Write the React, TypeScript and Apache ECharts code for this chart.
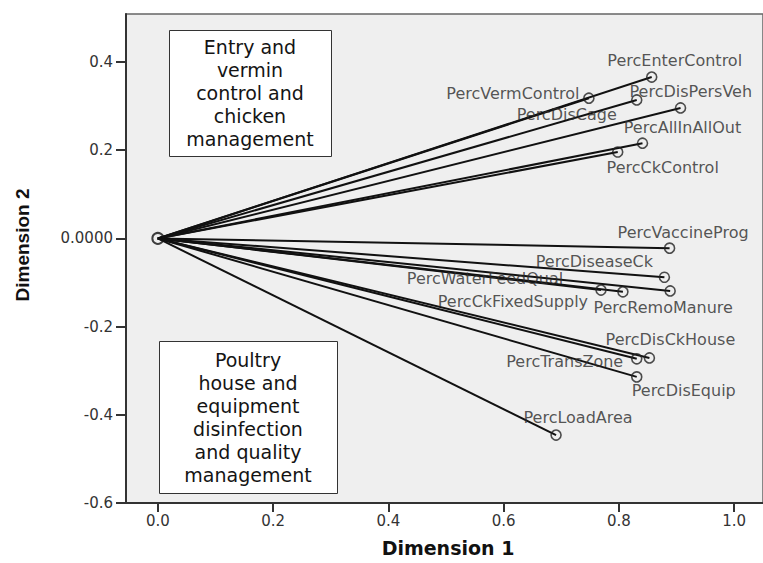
import React, { useEffect, useRef } from 'react';
import * as echarts from 'echarts';

// ---- data ----
const varNames = [
  'PercEnterControl', 'PercVermControl', 'PercDisCage', 'PercDisPersVeh', 'PercAllInAllOut', 'PercCkControl',
  'PercVaccineProg', 'PercDiseaseCk', 'PercRemoManure', 'PercCkFixedSupply', 'PercWaterFeedQual',
  'PercDisCkHouse', 'PercTransZone', 'PercDisEquip', 'PercLoadArea',
];
const dim1 = [0.857, 0.748, 0.831, 0.907, 0.841, 0.798, 0.888, 0.879, 0.889, 0.807, 0.769, 0.853, 0.831, 0.831, 0.691];
const dim2 = [0.366, 0.318, 0.314, 0.296, 0.216, 0.196, -0.022, -0.088, -0.119, -0.121, -0.117, -0.271, -0.273, -0.314, -0.446];
const xTickValues = [0, 0.2, 0.4, 0.6, 0.8, 1.0];
const yTickValues = [-0.6, -0.4, -0.2, 0, 0.2, 0.4];
const topBoxLines = ['Entry and', 'vermin', 'control and', 'chicken', 'management'];
const bottomBoxLines = ['Poultry', 'house and', 'equipment', 'disinfection', 'and quality', 'management'];
const xTitle = 'Dimension 1';
const yTitle = 'Dimension 2';

// ---- label placement (style) ----
const labelPlacement: Record<string, { offset: [number, number]; align?: string }> = {
  PercEnterControl: { offset: [23, -17] },
  PercVermControl: { offset: [-76, -5] },
  PercDisCage: { offset: [-70, 15] },
  PercDisPersVeh: { offset: [-51, -16], align: 'left' },
  PercAllInAllOut: { offset: [40, -16] },
  PercCkControl: { offset: [45, 15] },
  PercVaccineProg: { offset: [-52, -16], align: 'left' },
  PercDiseaseCk: { offset: [-70, -16] },
  PercRemoManure: { offset: [-7, 17] },
  PercCkFixedSupply: { offset: [-110, 10] },
  PercWaterFeedQual: { offset: [-116, -12] },
  PercDisCkHouse: { offset: [21, -18] },
  PercTransZone: { offset: [-72, 3] },
  PercDisEquip: { offset: [47, 14] },
  PercLoadArea: { offset: [22, -18] },
};

const tickFont = 'DejaVu Sans';
const boxFontSize = 19;
const boxLineGap = 23;

export default function App() {
  const ref = useRef<HTMLDivElement>(null);
  useEffect(() => {
    document.body.style.margin = '0';
    if (!ref.current) return;
    const chart = echarts.init(ref.current, undefined, { renderer: 'svg' });

    const lineData = varNames.map((n, i) => ({ name: n, coords: [[0, 0], [dim1[i], dim2[i]]] }));
    const pointData = varNames.map((n, i) => {
      const p = labelPlacement[n];
      return {
        name: n,
        value: [dim1[i], dim2[i]],
        label: {
          show: true,
          position: 'inside',
          formatter: n,
          offset: p.offset,
          align: p.align || 'center',
          verticalAlign: 'middle',
        },
      };
    });

    const boxTexts = (lines: string[], cx: number, cy: number) =>
      lines.map((t, k) => ({
        type: 'text',
        x: cx,
        y: cy + (k - (lines.length - 1) / 2) * boxLineGap,
        z: 100,
        style: {
          text: t,
          fontFamily: 'DejaVu Sans',
          fontSize: boxFontSize,
          fill: '#141414',
          align: 'center',
          verticalAlign: 'middle',
          textAlign: 'center',
          textVerticalAlign: 'middle',
        },
      }));

    const option: any = {
      animation: false,
      backgroundColor: '#ffffff',
      grid: {
        left: 126,
        top: 14,
        width: 640,
        height: 489,
        show: true,
        backgroundColor: '#efefef',
        borderColor: '#666',
        borderWidth: 1.5,
      },
      xAxis: {
        type: 'value',
        min: -0.0553,
        max: 1.0501,
        splitLine: { show: false },
        axisLine: { show: true, onZero: false, lineStyle: { color: '#333', width: 2 } },
        axisTick: { show: true, customValues: xTickValues, length: 9, lineStyle: { color: '#333', width: 2 } },
        axisLabel: {
          customValues: xTickValues,
          formatter: (v: number) => v.toFixed(1),
          margin: 10,
          fontSize: 15,
          fontFamily: tickFont,
          color: '#333',
        },
      },
      yAxis: {
        type: 'value',
        min: -0.6,
        max: 0.509,
        splitLine: { show: false },
        axisLine: { show: true, onZero: false, lineStyle: { color: '#333', width: 2 } },
        axisTick: { show: true, customValues: yTickValues, length: 10, lineStyle: { color: '#333', width: 2 } },
        axisLabel: {
          customValues: yTickValues,
          formatter: (v: number) => (Math.abs(v) < 1e-9 ? '0.0000' : v.toFixed(1)),
          margin: 13,
          fontSize: 15,
          fontFamily: tickFont,
          color: '#333',
        },
      },
      series: [
        {
          type: 'lines',
          coordinateSystem: 'cartesian2d',
          polyline: false,
          silent: true,
          lineStyle: { color: '#111', width: 2, opacity: 1 },
          data: lineData,
          z: 2,
        },
        {
          type: 'scatter',
          symbol: 'circle',
          symbolSize: 10,
          itemStyle: { color: 'rgba(0,0,0,0)', borderColor: '#222', borderWidth: 1.6 },
          label: { color: '#2b2b2b', fontSize: 16, fontFamily: tickFont },
          data: pointData,
          z: 3,
        },
        {
          type: 'scatter',
          symbol: 'circle',
          symbolSize: 11,
          itemStyle: { color: 'rgba(0,0,0,0)', borderColor: '#111', borderWidth: 2 },
          data: [[0, 0]],
          z: 3,
        },
      ],
      graphic: [
        {
          type: 'rect',
          z: 99,
          shape: { x: 169.5, y: 30.5, width: 162, height: 126 },
          style: { fill: '#fff', stroke: '#333', lineWidth: 1 },
        },
        ...boxTexts(topBoxLines, 250, 93),
        {
          type: 'rect',
          z: 99,
          shape: { x: 159.5, y: 341.5, width: 178, height: 152 },
          style: { fill: '#fff', stroke: '#333', lineWidth: 1 },
        },
        ...boxTexts(bottomBoxLines, 248, 417),
        {
          type: 'text',
          x: 448,
          y: 548,
          style: {
            text: xTitle,
            fontFamily: 'DejaVu Sans',
            fontWeight: 'bold',
            fontSize: 19,
            fill: '#111',
            align: 'center',
            verticalAlign: 'middle',
            textAlign: 'center',
            textVerticalAlign: 'middle',
          },
        },
        {
          type: 'text',
          x: 22,
          y: 245,
          rotation: Math.PI / 2,
          style: {
            text: yTitle,
            fontFamily: 'Liberation Sans',
            fontWeight: 'bold',
            fontSize: 19,
            fill: '#111',
            align: 'center',
            verticalAlign: 'middle',
            textAlign: 'center',
            textVerticalAlign: 'middle',
          },
        },
      ],
    };
    chart.setOption(option);
    return () => chart.dispose();
  }, []);
  return <div ref={ref} style={{ width: 763, height: 563 }} />;
}
